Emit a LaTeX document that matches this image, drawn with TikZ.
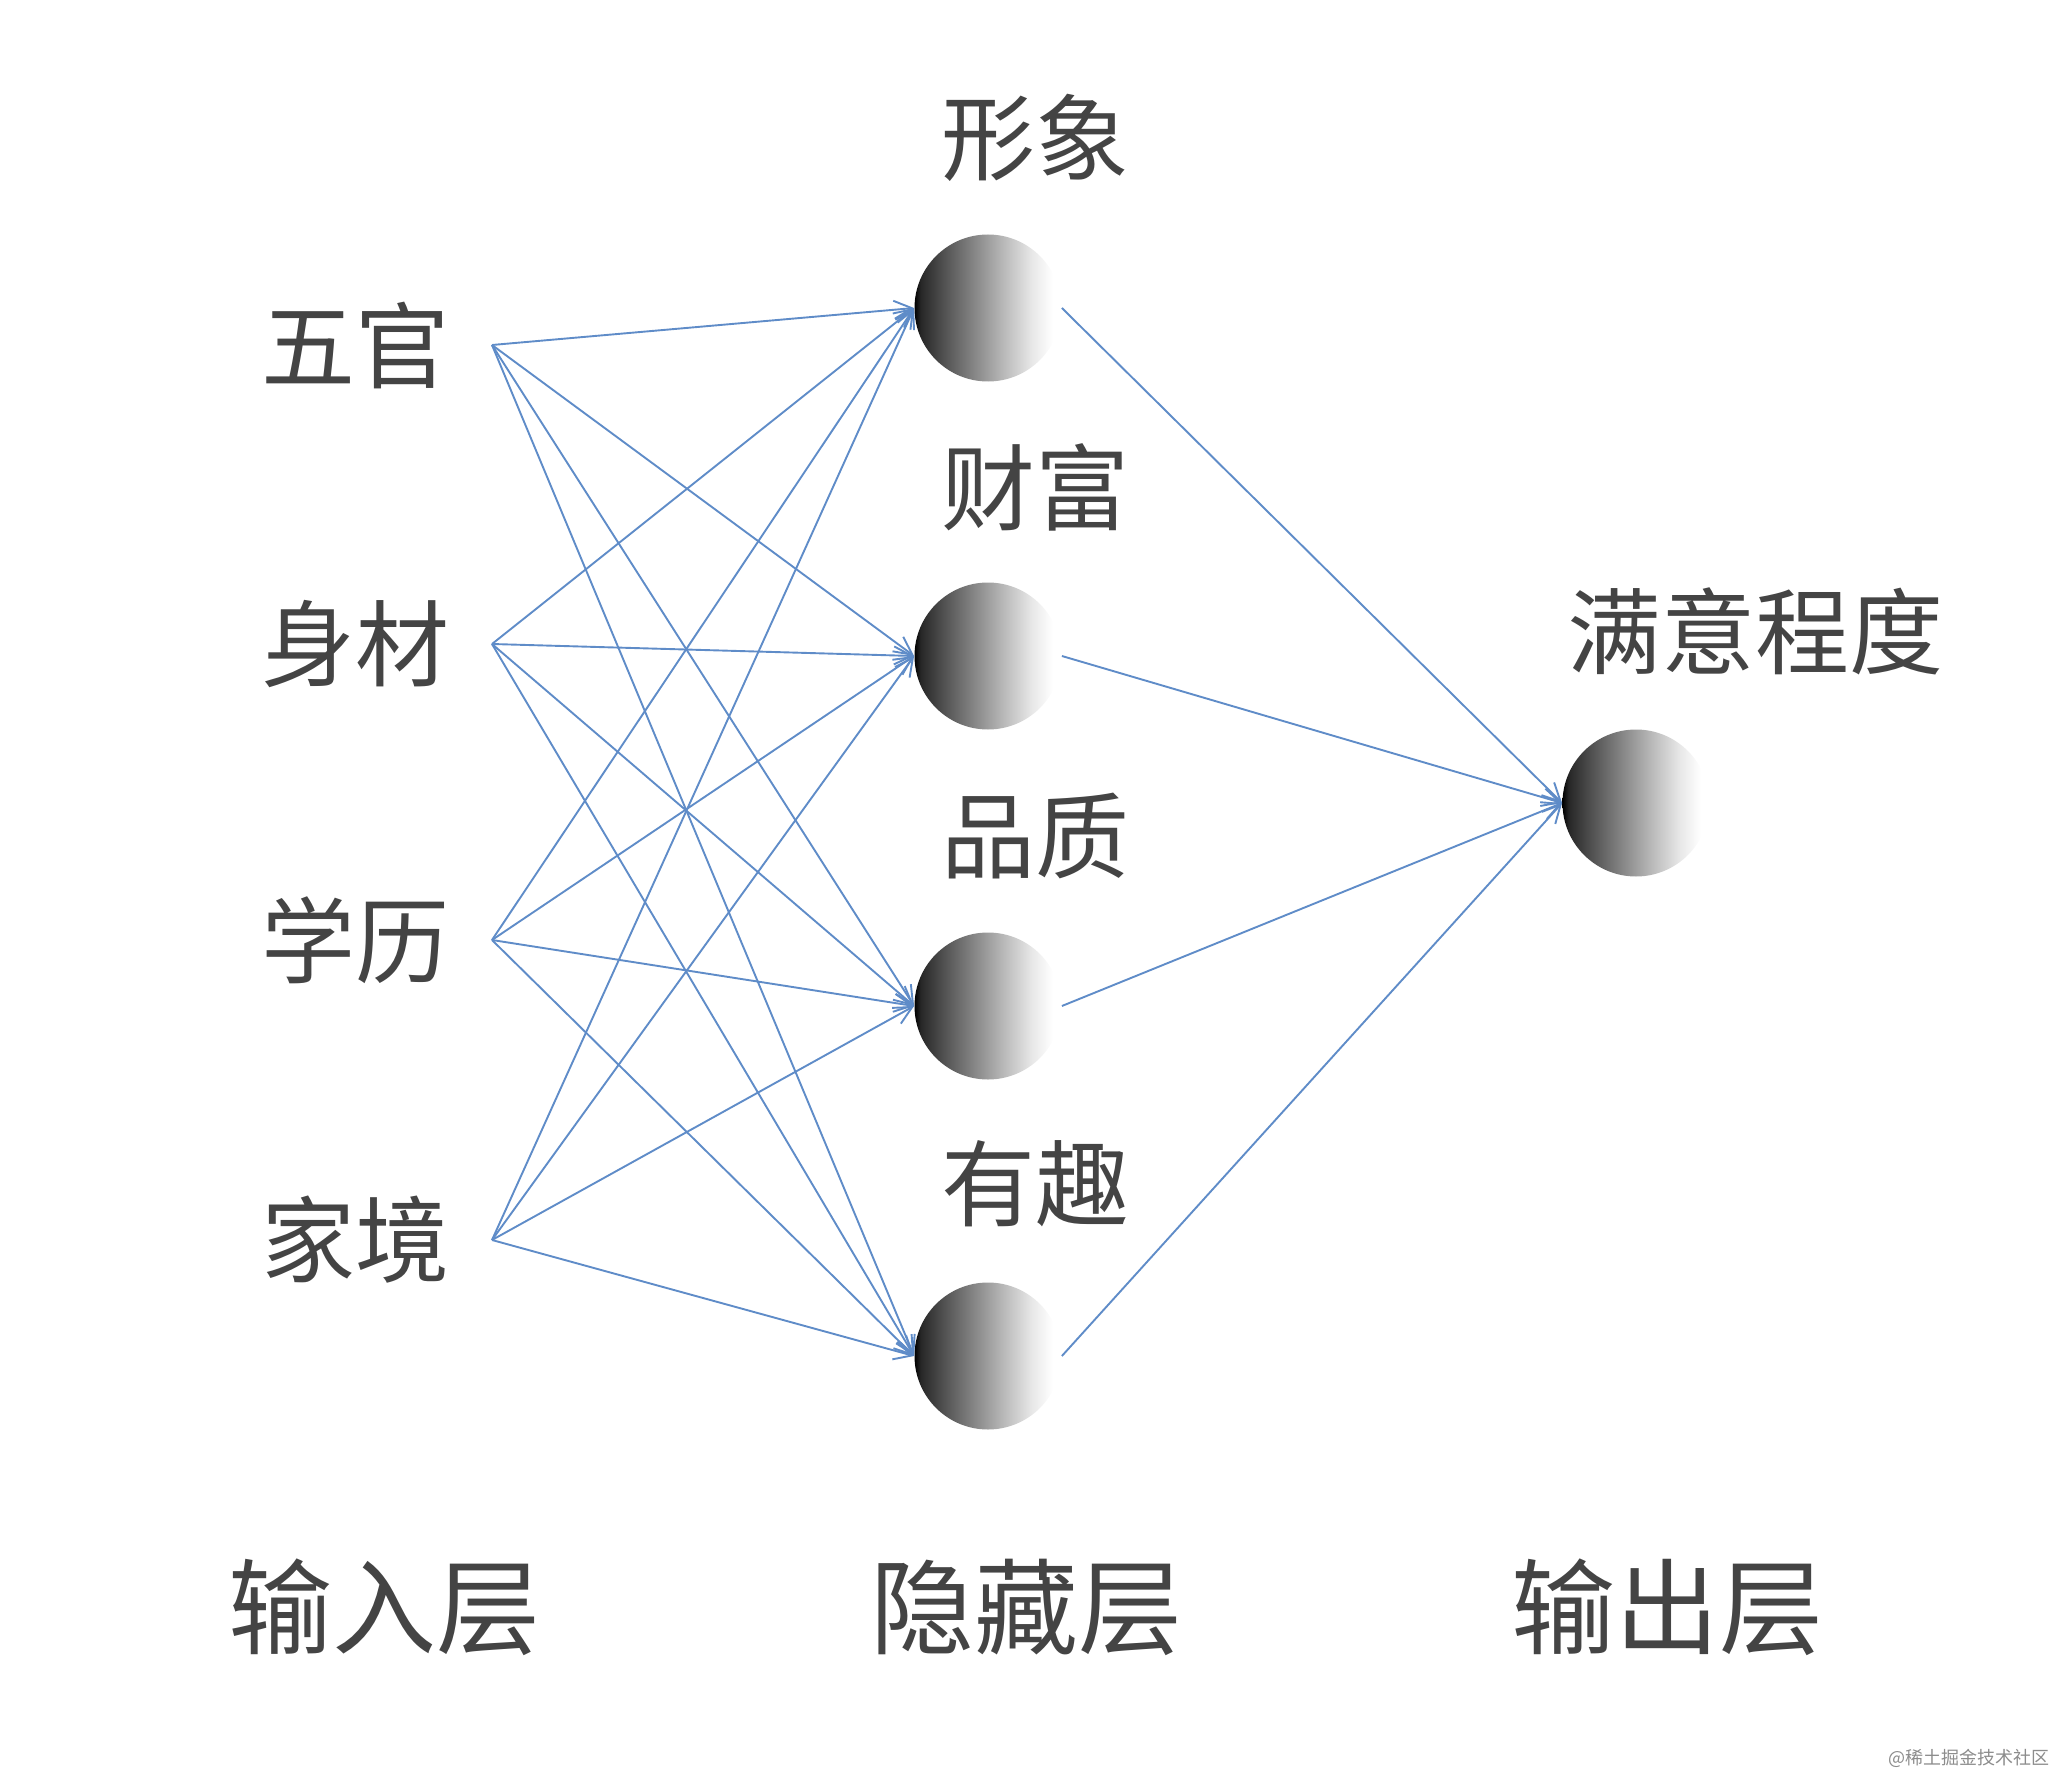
\documentclass[tikz,border=0pt]{standalone}
\usepackage{fontspec}
\setmainfont{Noto Sans CJK SC}
\usetikzlibrary{arrows.meta}
\definecolor{wireblue}{HTML}{5F8CC8}
\definecolor{ink}{HTML}{444444}
\pgfdeclarehorizontalshading{ball}{100bp}{color(0bp)=(black); color(25bp)=(black); color(27bp)=(black!85); color(35bp)=(black!68); color(45bp)=(black!48); color(55bp)=(black!28); color(65bp)=(black!9); color(72bp)=(white); color(100bp)=(white)}

\begin{document}
\begin{tikzpicture}[x=0.5pt,y=-0.5pt,>={Straight Barb[length=9pt,width=9pt]},
  neuron/.style={circle,minimum size=73.5pt,inner sep=0pt,shade,shading=ball},
  lab/.style={text=ink,font=\fontsize{47}{47}\selectfont},
  layer/.style={text=ink,font=\fontsize{52}{52}\selectfont},
  wire/.style={->,wireblue,line width=0.95pt}]
\useasboundingbox (0,0) rectangle (2062,1776);
% input layer
\node[lab] (in1) at (355,345) {五官};
\node[lab] (in2) at (355,644) {身材};
\node[lab] (in3) at (355,940) {学历};
\node[lab] (in4) at (355,1240) {家境};
\coordinate (p1) at (492,345);
\coordinate (p2) at (492,644);
\coordinate (p3) at (492,940);
\coordinate (p4) at (492,1240);
% hidden layer
\node[neuron] (h1) at (988,308) {};
\node[neuron] (h2) at (988,656) {};
\node[neuron] (h3) at (988,1006) {};
\node[neuron] (h4) at (988,1356) {};
\node[lab] (t1) at (1035,138) {形象};
\node[lab] (t2) at (1035,487) {财富};
\node[lab] (t3) at (1035,836) {品质};
\node[lab] (t4) at (1035,1184) {有趣};
% output layer
\node[neuron] (out) at (1636,803) {};
\node[lab] (tout) at (1755,631) {满意程度};
\foreach \i in {1,...,4}
  \foreach \j in {1,...,4}
    \draw[wire] (p\i) -- (h\j.west);
\foreach \j in {1,...,4}
  \draw[wire] (h\j.east) -- (out.west);
% layer names
\node[layer] (l1) at (384,1607) {输入层};
\node[layer] (l2) at (1026,1607) {隐藏层};
\node[layer] (l3) at (1667,1607) {输出层};
\node[anchor=east,text=black!45,font=\fontsize{9}{9}\selectfont] (wm) at (2057,1758) {@稀土掘金技术社区};
\end{tikzpicture}
\end{document}
